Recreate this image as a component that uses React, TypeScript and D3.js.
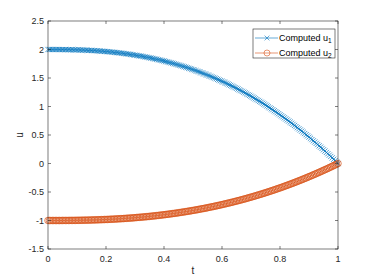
import React from 'react';
import * as d3 from 'd3';

// sample grid: t = 0, 0.005, ..., 1
const tValues = d3.range(201).map(i => i / 200);

const u1Values = [
  2.000, 2.000, 2.000, 2.000, 2.000, 2.000, 2.000, 2.000, 1.999, 1.999,
  1.999, 1.999, 1.998, 1.998, 1.997, 1.997, 1.996, 1.996, 1.995, 1.994,
  1.994, 1.993, 1.992, 1.991, 1.990, 1.989, 1.988, 1.987, 1.985, 1.984,
  1.983, 1.981, 1.980, 1.978, 1.976, 1.974, 1.973, 1.971, 1.969, 1.966,
  1.964, 1.962, 1.960, 1.957, 1.955, 1.952, 1.949, 1.946, 1.944, 1.941,
  1.938, 1.934, 1.931, 1.928, 1.924, 1.921, 1.917, 1.913, 1.909, 1.905,
  1.901, 1.897, 1.893, 1.889, 1.884, 1.880, 1.875, 1.870, 1.865, 1.860,
  1.855, 1.850, 1.844, 1.839, 1.833, 1.828, 1.822, 1.816, 1.810, 1.804,
  1.798, 1.791, 1.785, 1.778, 1.771, 1.765, 1.758, 1.750, 1.743, 1.736,
  1.728, 1.721, 1.713, 1.705, 1.697, 1.689, 1.681, 1.672, 1.664, 1.655,
  1.646, 1.638, 1.629, 1.619, 1.610, 1.601, 1.591, 1.581, 1.571, 1.561,
  1.551, 1.541, 1.531, 1.520, 1.509, 1.499, 1.488, 1.476, 1.465, 1.454,
  1.442, 1.431, 1.419, 1.407, 1.395, 1.382, 1.370, 1.357, 1.345, 1.332,
  1.319, 1.306, 1.292, 1.279, 1.265, 1.251, 1.237, 1.223, 1.209, 1.195,
  1.180, 1.165, 1.150, 1.135, 1.120, 1.105, 1.089, 1.074, 1.058, 1.042,
  1.026, 1.009, 0.993, 0.976, 0.959, 0.943, 0.925, 0.908, 0.891, 0.873,
  0.855, 0.837, 0.819, 0.801, 0.782, 0.764, 0.745, 0.726, 0.707, 0.687,
  0.668, 0.648, 0.628, 0.608, 0.588, 0.568, 0.547, 0.526, 0.505, 0.484,
  0.463, 0.442, 0.420, 0.398, 0.376, 0.354, 0.332, 0.309, 0.287, 0.264,
  0.241, 0.218, 0.194, 0.171, 0.147, 0.123, 0.099, 0.074, 0.050, 0.025,
  0.000,
];

const u2Values = [
  -1.000, -1.000, -1.000, -1.000, -1.000, -1.000, -1.000, -1.000, -1.000, -1.000,
  -0.999, -0.999, -0.999, -0.999, -0.999, -0.998, -0.998, -0.998, -0.998, -0.997,
  -0.997, -0.996, -0.996, -0.995, -0.995, -0.994, -0.994, -0.993, -0.993, -0.992,
  -0.991, -0.990, -0.990, -0.989, -0.988, -0.987, -0.986, -0.985, -0.984, -0.983,
  -0.982, -0.981, -0.980, -0.978, -0.977, -0.976, -0.975, -0.973, -0.972, -0.970,
  -0.969, -0.967, -0.966, -0.964, -0.962, -0.960, -0.958, -0.957, -0.955, -0.953,
  -0.951, -0.948, -0.946, -0.944, -0.942, -0.940, -0.937, -0.935, -0.933, -0.930,
  -0.928, -0.925, -0.922, -0.920, -0.917, -0.914, -0.911, -0.908, -0.905, -0.902,
  -0.899, -0.896, -0.892, -0.889, -0.886, -0.882, -0.879, -0.875, -0.872, -0.868,
  -0.864, -0.860, -0.856, -0.853, -0.848, -0.845, -0.840, -0.836, -0.832, -0.828,
  -0.823, -0.819, -0.814, -0.810, -0.805, -0.800, -0.795, -0.791, -0.786, -0.781,
  -0.776, -0.770, -0.765, -0.760, -0.755, -0.749, -0.744, -0.738, -0.733, -0.727,
  -0.721, -0.715, -0.709, -0.703, -0.697, -0.691, -0.685, -0.679, -0.672, -0.666,
  -0.659, -0.653, -0.646, -0.640, -0.632, -0.626, -0.619, -0.612, -0.604, -0.597,
  -0.590, -0.583, -0.575, -0.568, -0.560, -0.552, -0.545, -0.537, -0.529, -0.521,
  -0.513, -0.505, -0.496, -0.488, -0.480, -0.471, -0.463, -0.454, -0.445, -0.436,
  -0.428, -0.419, -0.410, -0.400, -0.391, -0.382, -0.372, -0.363, -0.353, -0.344,
  -0.334, -0.324, -0.314, -0.304, -0.294, -0.284, -0.273, -0.263, -0.253, -0.242,
  -0.231, -0.221, -0.210, -0.199, -0.188, -0.177, -0.166, -0.155, -0.143, -0.132,
  -0.120, -0.109, -0.097, -0.086, -0.073, -0.062, -0.049, -0.037, -0.025, -0.013,
  0.000,
];

const xTicks = [0, 0.2, 0.4, 0.6, 0.8, 1];
const yTicks = [-1.5, -1, -0.5, 0, 0.5, 1, 1.5, 2, 2.5];

const BLUE = '#0072BD';
const ORANGE = '#D95319';
const AXIS = '#262626';
const FONT = '"Liberation Sans", Arial, Helvetica, sans-serif';

const W = 374;
const H = 280;
const margin = { top: 21, right: 36, bottom: 31, left: 48 };

export default function App() {
  const x = d3.scaleLinear().domain([0, 1]).range([margin.left, W - margin.right]);
  const y = d3.scaleLinear().domain([-1.5, 2.5]).range([H - margin.bottom, margin.top]);

  const line = d3.line<number>()
    .x((_, i) => x(tValues[i]))
    .y(d => y(d));

  const x0 = x(0), x1 = x(1), y0 = y(-1.5), y1 = y(2.5);
  const tickLen = 3;
  const fmt = (v: number) => String(v);

  const crossPath = (cx: number, cy: number, r: number) =>
    `M${cx - r},${cy - r}L${cx + r},${cy + r}M${cx - r},${cy + r}L${cx + r},${cy - r}`;

  const legend = { x: 253, y: 29, w: 82, h: 29 };

  return (
    <svg width={W} height={H} style={{ position: 'absolute', left: 0, top: 0, background: '#fff' }}>
      <rect x={0} y={0} width={W} height={H} fill="#fff" />

      {/* series 1 */}
      <path d={line(u1Values) ?? ''} fill="none" stroke={BLUE} strokeWidth={0.6} />
      <g stroke={BLUE} strokeWidth={0.7} fill="none">
        {u1Values.map((v, i) => (
          <path key={i} d={crossPath(x(tValues[i]), y(v), 2.6)} />
        ))}
      </g>

      {/* series 2 */}
      <path d={line(u2Values) ?? ''} fill="none" stroke={ORANGE} strokeWidth={0.6} />
      <g stroke={ORANGE} strokeWidth={0.7} fill="none">
        {u2Values.map((v, i) => (
          <circle key={i} cx={x(tValues[i])} cy={y(v)} r={3.3} />
        ))}
      </g>

      {/* axes box */}
      <rect x={x0} y={y1} width={x1 - x0} height={y0 - y1} fill="none" stroke={AXIS} strokeWidth={0.6} />

      {xTicks.map(t => (
        <g key={'x' + t}>
          <line x1={x(t)} x2={x(t)} y1={y0} y2={y0 - tickLen} stroke={AXIS} strokeWidth={0.6} />
          <line x1={x(t)} x2={x(t)} y1={y1} y2={y1 + tickLen} stroke={AXIS} strokeWidth={0.6} />
          <text x={x(t)} y={y0 + 13} textAnchor="middle" fontFamily={FONT} fontSize={9} fill={AXIS}>
            {fmt(t)}
          </text>
        </g>
      ))}

      {yTicks.map(v => (
        <g key={'y' + v}>
          <line x1={x0} x2={x0 + tickLen} y1={y(v)} y2={y(v)} stroke={AXIS} strokeWidth={0.6} />
          <line x1={x1} x2={x1 - tickLen} y1={y(v)} y2={y(v)} stroke={AXIS} strokeWidth={0.6} />
          <text x={x0 - 4} y={y(v) + 3} textAnchor="end" fontFamily={FONT} fontSize={9} fill={AXIS}>
            {fmt(v)}
          </text>
        </g>
      ))}

      <text x={(x0 + x1) / 2} y={y0 + 25} textAnchor="middle" fontFamily={FONT} fontSize={10} fill={AXIS}>t</text>
      <text transform={`translate(23,${(y0 + y1) / 2}) rotate(-90)`} textAnchor="middle"
        fontFamily={FONT} fontSize={10} fill={AXIS}>u</text>

      {/* legend */}
      <rect x={legend.x} y={legend.y} width={legend.w} height={legend.h} fill="#fff" stroke={AXIS} strokeWidth={0.6} />
      <g>
        <line x1={legend.x + 2} x2={legend.x + 25} y1={legend.y + 9} y2={legend.y + 9} stroke={BLUE} strokeWidth={0.6} />
        <path d={crossPath(legend.x + 14, legend.y + 9, 2.4)} stroke={BLUE} strokeWidth={0.6} fill="none" />
        <text x={legend.x + 26} y={legend.y + 12} fontFamily={FONT} fontSize={9} fill="#000">
          Computed u<tspan fontSize={6.5} dy={2}>1</tspan>
        </text>
        <line x1={legend.x + 2} x2={legend.x + 25} y1={legend.y + 24} y2={legend.y + 24} stroke={ORANGE} strokeWidth={0.6} />
        <circle cx={legend.x + 14} cy={legend.y + 24} r={3} stroke={ORANGE} strokeWidth={0.6} fill="none" />
        <text x={legend.x + 26} y={legend.y + 27} fontFamily={FONT} fontSize={9} fill="#000">
          Computed u<tspan fontSize={6.5} dy={2}>2</tspan>
        </text>
      </g>
    </svg>
  );
}
